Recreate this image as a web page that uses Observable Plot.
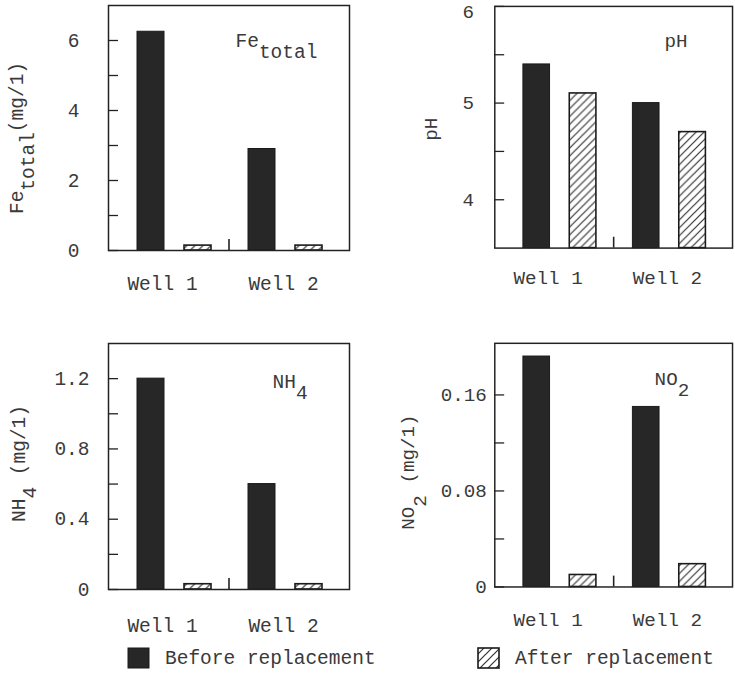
<!DOCTYPE html>
<html>
<head>
<meta charset="utf-8">
<script src="https://cdn.jsdelivr.net/npm/d3@7"></script>
<script src="https://cdn.jsdelivr.net/npm/@observablehq/plot@0.6"></script>
<style>
  html, body { margin: 0; padding: 0; background: #fff; overflow: hidden; }
  #root { position: relative; width: 735px; height: 673px; overflow: hidden; background: #fff; }
  .panel { position: absolute; }
  .panel svg { overflow: visible; }
  #legend { position: absolute; left: 0; top: 630px; }
</style>
</head>
<body>
<svg width="0" height="0" style="position:absolute">
  <defs>
    <pattern id="hatch" patternUnits="userSpaceOnUse" width="8" height="8">
      <rect width="8" height="8" fill="#fff"></rect>
      <path d="M-2,2 L2,-2 M0,8 L8,0 M6,10 L10,6" stroke="#333" stroke-width="1.2"></path>
    </pattern>
  </defs>
</svg>
<div id="root"></div>
<script>
// ---------------- data ----------------
const wells = ["Well 1", "Well 2"];
const seriesNames = ["Before replacement", "After replacement"];

const feBefore = [6.25, 2.9];
const feAfter = [0.14, 0.14];
const phBefore = [5.4, 5.0];
const phAfter = [5.1, 4.7];
const nh4Before = [1.2, 0.6];
const nh4After = [0.03, 0.03];
const no2Before = [0.192, 0.15];
const no2After = [0.01, 0.019];

const feTicks = [0, 2, 4, 6];          const feTickLabels = ["0", "2", "4", "6"];       const feMinor = [1, 3, 5];
const phTicks = [4, 5, 6];             const phTickLabels = ["4", "5", "6"];            const phMinor = [4.5, 5.5];
const nh4Ticks = [0, 0.4, 0.8, 1.2];   const nh4TickLabels = ["0", "0.4", "0.8", "1.2"]; const nh4Minor = [0.2, 0.6, 1.0];
const no2Ticks = [0, 0.08, 0.16];      const no2TickLabels = ["0", "0.08", "0.16"];     const no2Minor = [0.04, 0.12];

// ---------------- style ----------------
const FONT = '"Liberation Mono", "DejaVu Sans Mono", monospace';
const FS = "19.5px";
const TEXT = "#3a3a3a";
const INK = "#222";
const DARK = "#272727";

const panels = [
  {before: feBefore, after: feAfter, domain: [0, 7], ticks: feTicks, tickLabels: feTickLabels, minor: feMinor,
   yLabel: "Fe_{total}(mg/1)", tag: "Fe_{total}", topLabelDy: 0,
   left: 0, top: 0, width: 364, height: 305, mt: 5, ml: 108, mr: 15, mb: 55,
   tickPad: 29, labDx: -92, labDy: 10, tagDx: 127, tagDy: 41, xPad: 26},
  {before: phBefore, after: phAfter, domain: [3.5, 6], ticks: phTicks, tickLabels: phTickLabels, minor: phMinor,
   yLabel: "pH", tag: "pH", topLabelDy: 6,
   left: 370, top: 0, width: 370, height: 305, mt: 6, ml: 126, mr: 3, mb: 54,
   tickPad: 21, labDx: -65, labDy: 2, tagDx: 172, tagDy: 41, xPad: 23},
  {before: nh4Before, after: nh4After, domain: [0, 1.4], ticks: nh4Ticks, tickLabels: nh4TickLabels, minor: nh4Minor,
   yLabel: "NH_{4} (mg/1)", tag: "NH_{4}", topLabelDy: 0,
   left: 0, top: 330, width: 364, height: 314, mt: 13, ml: 108, mr: 15, mb: 55,
   tickPad: 19, labDx: -90, labDy: -3, tagDx: 164, tagDy: 44, xPad: 29},
  {before: no2Before, after: no2After, domain: [0, 0.203], ticks: no2Ticks, tickLabels: no2TickLabels, minor: no2Minor,
   yLabel: "NO_{2} (mg/1)", tag: "NO_{2}", topLabelDy: 0,
   left: 370, top: 330, width: 370, height: 315, mt: 13, ml: 126, mr: 3, mb: 55,
   tickPad: 8, labDx: -88, labDy: 7, tagDx: 162, tagDy: 42, xPad: 26}
];

function applySubscripts(svg) {
  d3.select(svg).selectAll("text").each(function () {
    const t = this.textContent;
    if (!t.includes("_{")) return;
    const parts = t.split(/(_\{[^}]*\})/).filter(s => s);
    this.textContent = "";
    let shifted = false;
    for (const p of parts) {
      const sub = p.startsWith("_{");
      const ts = d3.select(this).append("tspan").text(sub ? p.slice(2, -1) : p);
      if (sub && !shifted) { ts.attr("dy", "0.6em"); shifted = true; }
      else if (!sub && shifted) { ts.attr("dy", "-0.6em"); shifted = false; }
    }
  });
}

function makePanel(cfg) {
  const rows = [];
  wells.forEach((w, i) => {
    rows.push({well: w, series: seriesNames[0], value: cfg.before[i]});
    rows.push({well: w, series: seriesNames[1], value: cfg.after[i]});
  });
  const plotW = cfg.width - cfg.ml - cfg.mr;
  const plotH = cfg.height - cfg.mt - cfg.mb;
  const base = cfg.domain[0];
  const fmt = d => cfg.tickLabels[cfg.ticks.indexOf(d)];
  const lowTicks = cfg.ticks.slice(0, -1);
  const topTick = cfg.ticks.slice(-1);

  const chart = Plot.plot({
    width: cfg.width,
    height: cfg.height,
    marginTop: cfg.mt, marginLeft: cfg.ml, marginRight: cfg.mr, marginBottom: cfg.mb,
    style: {fontFamily: FONT, fontSize: FS, color: TEXT, background: "transparent"},
    x: {type: "band", domain: wells, paddingInner: 0.1, paddingOuter: 0.1355, axis: null},
    y: {domain: cfg.domain, axis: null},
    marks: [
      Plot.barY(rows, {filter: d => d.series === seriesNames[0], x: "well", y1: base, y2: "value",
        fill: DARK, stroke: "#1a1a1a", strokeWidth: 1, insetLeft: 36.5, insetRight: 36.5, dx: -22.5}),
      Plot.barY(rows, {filter: d => d.series === seriesNames[1], x: "well", y1: base, y2: "value",
        fill: "url(#hatch)", stroke: "#1a1a1a", strokeWidth: 1.6, insetLeft: 36.5, insetRight: 36.5, dx: 24.5}),
      Plot.frame({stroke: INK, strokeWidth: 1.5}),
      Plot.tickY([...cfg.ticks, ...cfg.minor], {y: d => d, stroke: INK, strokeWidth: 1.3, insetRight: plotW - 10}),
      Plot.ruleX([wells[0]], {x: d => d, dx: 55.5, stroke: INK, strokeWidth: 1.6, insetTop: plotH - 11}),
      Plot.axisY({ticks: lowTicks, tickFormat: fmt, tickSize: 0, tickPadding: cfg.tickPad, label: null,
        fill: TEXT, fontSize: FS}),
      Plot.axisY({ticks: topTick, tickFormat: fmt, tickSize: 0, tickPadding: cfg.tickPad, label: null,
        dy: cfg.topLabelDy, fill: TEXT, fontSize: FS}),
      Plot.axisX({ticks: [wells[0]], tickSize: 0, tickPadding: cfg.xPad, dx: -11, label: null, fill: TEXT, fontSize: FS}),
      Plot.axisX({ticks: [wells[1]], tickSize: 0, tickPadding: cfg.xPad, dx: -1, label: null, fill: TEXT, fontSize: FS}),
      Plot.text([cfg.yLabel], {text: d => d, frameAnchor: "left", textAnchor: "middle", lineAnchor: "middle",
        rotate: -90, dx: cfg.labDx, dy: cfg.labDy, fill: TEXT, fontSize: FS}),
      Plot.text([cfg.tag], {text: d => d, frameAnchor: "top-left", textAnchor: "start", lineAnchor: "bottom",
        dx: cfg.tagDx, dy: cfg.tagDy, fill: TEXT, fontSize: FS})
    ]
  });
  applySubscripts(chart);
  const div = document.createElement("div");
  div.className = "panel";
  div.style.left = cfg.left + "px";
  div.style.top = cfg.top + "px";
  div.appendChild(chart);
  return div;
}

const root = document.getElementById("root");
panels.forEach(p => root.appendChild(makePanel(p)));

// ---------------- legend (below the charts) ----------------
const legendItems = [
  {name: seriesNames[0], fill: DARK, sw: 1},
  {name: seriesNames[1], fill: "url(#hatch)", sw: 1.6}
];
const legendX = [128, 478];
const leg = d3.select(root).append("svg").attr("id", "legend").attr("width", 735).attr("height", 43);
legendItems.forEach((it, i) => {
  const g = leg.append("g").attr("transform", `translate(${legendX[i]},0)`);
  g.append("rect").attr("x", 0).attr("y", 18).attr("width", 21).attr("height", 20)
    .attr("fill", it.fill).attr("stroke", "#1a1a1a").attr("stroke-width", it.sw);
  g.append("text").attr("x", 37).attr("y", 34).attr("fill", TEXT)
    .style("font-family", FONT).style("font-size", FS).text(it.name);
});
</script>
</body>
</html>
